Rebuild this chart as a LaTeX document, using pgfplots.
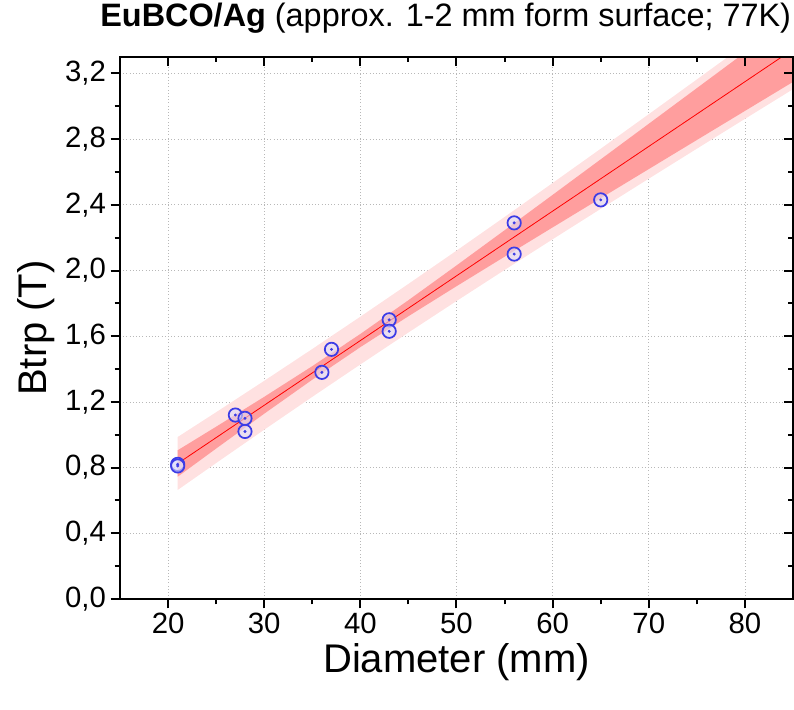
\documentclass[border=0pt]{standalone}
\usepackage{fontspec}
\setmainfont{Liberation Sans}
\usepackage{pgfplots}
\pgfplotsset{compat=1.18}
\usepackage{pgfplotstable}
\usepgfplotslibrary{fillbetween}

\definecolor{ptblue}{RGB}{60,60,230}
\definecolor{bandlight}{RGB}{255,225,225}
\definecolor{banddark}{RGB}{255,158,158}
\definecolor{fitred}{RGB}{255,0,0}

% measured points
\pgfplotstableread{
x  btrp
21 0.82
21 0.81
27 1.12
28 1.10
28 1.02
36 1.38
37 1.52
43 1.70
43 1.63
56 2.29
56 2.10
65 2.43
}\measured

% linear fit with confidence (c) and prediction (p) bands
\pgfplotstableread{
x  f      cl     cu     pl     pu
21 0.8249 0.7445 0.9055 0.6638 0.9862
25 0.9825 0.9160 1.0490 0.8278 1.1372
30 1.1795 1.1282 1.2308 1.0307 1.3283
35 1.3765 1.3353 1.4177 1.2309 1.5221
40 1.5735 1.5334 1.6136 1.4282 1.7188
45 1.7705 1.7218 1.8192 1.6226 1.9184
50 1.9675 1.9043 2.0307 1.8142 2.1208
55 2.1645 2.0840 2.2450 2.0033 2.3257
60 2.3615 2.2625 2.4605 2.1903 2.5327
65 2.5585 2.4402 2.6768 2.3755 2.7415
70 2.7555 2.6176 2.8934 2.5592 2.9518
75 2.9525 2.7947 3.1103 2.7418 3.1632
80 3.1495 2.9716 3.3274 2.9233 3.3757
85 3.3465 3.1484 3.5446 3.1041 3.5889
}\fit

\pgfplotsset{
  chart/.style={
    scale only axis,
    width=504.75pt, height=406.5pt,
    xmin=15, xmax=85, ymin=0, ymax=3.3,
    xtick={20,30,40,50,60,70,80},
    ytick={0,0.4,0.8,1.2,1.6,2.0,2.4,2.8,3.2},
    minor x tick num=1, minor y tick num=1,
    axis line style={line width=1.5pt},
    every tick/.style={black, line width=1.5pt},
    major tick length=7pt, minor tick length=4pt,
  },
}

\begin{document}
\begin{tikzpicture}
\begin{axis}[
  chart,
  tick align=outside,
  xtick pos=bottom, ytick pos=left,
  grid=major,
  major grid style={dotted, black!28, line width=0.6pt},
  /pgf/number format/assume math mode=true,
  tick label style={font=\fontsize{22}{26}\selectfont},
  yticklabel style={/pgf/number format/.cd, fixed, fixed zerofill, precision=1, use comma},
  xlabel={Diameter (mm)},
  ylabel={Btrp (T)},
  label style={font=\fontsize{30}{34}\selectfont},
  xlabel style={at={(axis description cs:0.5,-0.1162)}, anchor=center},
  ylabel style={at={(axis description cs:-0.1248,0.5)}, anchor=center},
  title={\textbf{EuBCO/Ag} (approx. 1-2 mm form surface; 77K)},
  title style={font=\fontsize{24.3}{28}\selectfont, at={(axis description cs:0.484,1.057)}, anchor=center},
]
\addplot[name path=pu, draw=none] table[x=x, y=pu] {\fit};
\addplot[name path=pl, draw=none] table[x=x, y=pl] {\fit};
\addplot[fill=bandlight, draw=none] fill between[of=pu and pl];
\addplot[name path=cu, draw=none] table[x=x, y=cu] {\fit};
\addplot[name path=cl, draw=none] table[x=x, y=cl] {\fit};
\addplot[fill=banddark, draw=none] fill between[of=cu and cl];
\addplot[fitred, line width=0.6pt] table[x=x, y=f] {\fit};
\addplot[only marks, mark=*, mark size=5pt,
  mark options={draw=ptblue, line width=1.3pt, fill=ptblue!18, fill opacity=0.6}]
  table[x=x, y=btrp] {\measured};
\addplot[only marks, mark=*, mark size=0.9pt, ptblue] table[x=x, y=btrp] {\measured};
\end{axis}
\begin{axis}[
  chart,
  tick align=inside,
  xtick pos=top, ytick pos=right,
  xticklabels={}, yticklabels={},
]
\addplot[draw=none] coordinates {(15,0) (85,3.3)};
\end{axis}
\pgfresetboundingbox
\useasboundingbox (-90pt,-83.25pt) rectangle (505.5pt,449.25pt);
\end{tikzpicture}
\end{document}
